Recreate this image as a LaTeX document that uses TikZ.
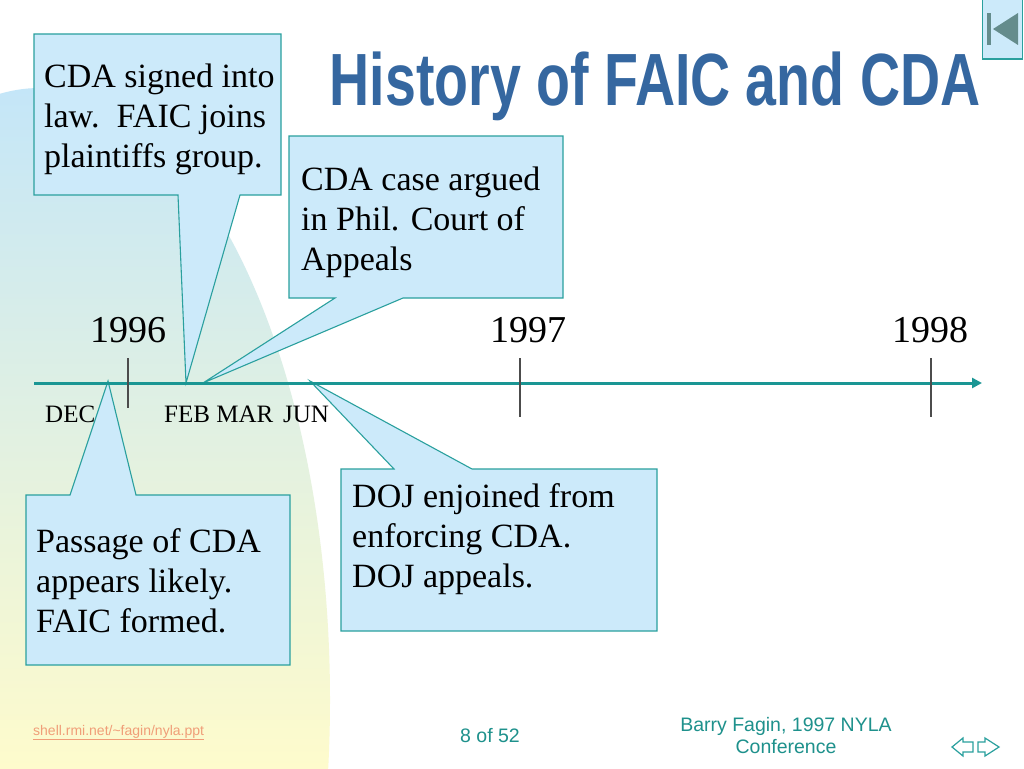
\documentclass[tikz,border=0pt]{standalone}
\usepackage{fontspec}
\setmainfont{Liberation Serif}
\newfontfamily\arialf{Liberation Sans}
\usepackage{graphicx}
\usetikzlibrary{arrows.meta}
\definecolor{calfill}{RGB}{204,234,250}
\definecolor{calline}{RGB}{42,160,158}
\definecolor{axiscol}{RGB}{26,150,148}
\definecolor{titlecol}{RGB}{53,103,160}
\definecolor{bgtop}{RGB}{196,230,248}
\definecolor{bgmid}{RGB}{218,239,228}
\definecolor{bgbot}{RGB}{254,251,204}
\definecolor{urlcol}{RGB}{240,158,120}
\definecolor{footcol}{RGB}{30,145,140}
\definecolor{navgray}{RGB}{100,140,140}
\newcommand\calltext[1]{\begin{tabular}[t]{@{}l@{}}#1\end{tabular}}
\newcommand\centtext[1]{\begin{tabular}[t]{@{}c@{}}#1\end{tabular}}
\begin{document}
\begin{tikzpicture}[x=1pt,y=-1pt,
  callout/.style={fill=calfill,draw=calline,line width=1.1pt,line join=miter},
  caltext/.style={anchor=base west,inner sep=0pt,font=\fontsize{34}{40}\selectfont},
  year/.style={anchor=base,inner sep=0pt,font=\fontsize{38}{40}\selectfont},
  month/.style={anchor=base west,inner sep=0pt,font=\fontsize{25}{28}\selectfont},
  yeartick/.style={draw=black!70,line width=1.2pt},
  navarrow/.style={draw=calline,fill=white,line width=1.2pt,line join=miter},
  foot/.style={inner sep=0pt,text=footcol,font=\arialf\fontsize{19.5}{22}\selectfont},
]
\useasboundingbox (0,0) rectangle (1024,768);
\fill[white] (0,0) rectangle (1024,768);
% background swoosh
\begin{scope}
\clip (40,700) ellipse [x radius=290, y radius=612];
\shade[top color=bgtop, middle color=bgmid, bottom color=bgbot] (0,88) rectangle (340,768);
\end{scope}
% title
\node[anchor=base,inner sep=0pt,text=titlecol,font=\arialf\bfseries\fontsize{74}{80}\selectfont] (title) at (655,105) {\scalebox{0.75}[1]{History of FAIC and CDA}};
% top-right icon
\draw[fill=calfill,draw=calline,line width=1pt] (982,0) rectangle (1022,59);
\fill[navgray] (987,13) rectangle (991,45);
\fill[navgray] (993,29) -- (1018,13) -- (1018,45) -- cycle;
% pointer tips on the axis
\coordinate (t1) at (186,383);
\coordinate (t2) at (203,383);
\coordinate (t3) at (310,381);
\coordinate (t4) at (108,381);
% callouts
\path[callout] (34,34) -- (281,34) -- (281,195) -- (240,195) -- (t1) -- (178,195) -- (34,195) -- cycle;
\path[callout] (289,136) -- (563,136) -- (563,298) -- (403,298) -- (t2) -- (335,298) -- (289,298) -- cycle;
\path[callout] (341,469) -- (394,469) -- (t3) -- (472,469) -- (657,469) -- (657,631) -- (341,631) -- cycle;
\path[callout] (26,495) -- (70,495) -- (t4) -- (136,495) -- (290,495) -- (290,665) -- (26,665) -- cycle;
\node[caltext] (c1) at (44,87) {\calltext{CDA signed into\\law.\ \ FAIC joins\\plaintiffs group.}};
\node[caltext] (c2) at (301,190) {\calltext{CDA case argued\\in Phil. Court of\\Appeals}};
\node[caltext] (c3) at (352,507) {\calltext{DOJ enjoined from\\enforcing CDA.\\DOJ appeals.}};
\node[caltext] (c4) at (36,552) {\calltext{Passage of CDA\\appears likely.\\FAIC formed.}};
% axis
\coordinate (a0) at (34,383);
\coordinate (a1) at (982,383);
\draw[axiscol,line width=3pt,-{Triangle[length=10pt,width=10pt]}] (a0) -- (a1);
% years and ticks
\node[year] (y96) at (128,342) {1996};
\node[year] (y97) at (528,342) {1997};
\node[year] (y98) at (930,342) {1998};
\draw[yeartick] (128,358) -- (128,408);
\draw[yeartick] (520,358) -- (520,417);
\draw[yeartick] (931,358) -- (931,417);
% months
\node[month] (dec) at (45,422) {DEC};
\node[month] (febmar) at (164,422) {FEB MAR};
\node[month] (jun) at (283,422) {JUN};
% footer
\node[anchor=base west,inner sep=0pt,text=urlcol,font=\arialf\fontsize{14}{16}\selectfont] (url) at (33,735) {\underline{shell.rmi.net/\textasciitilde fagin/nyla.ppt}};
\node[foot,anchor=base] (page) at (490,742) {8 of 52};
\node[foot,anchor=base] (credit) at (786,731) {\centtext{Barry Fagin, 1997 NYLA\\Conference}};
% nav arrows
\path[navarrow] (952,747) -- (963,738) -- (963,742) -- (973,742) -- (973,752) -- (963,752) -- (963,756) -- cycle;
\path[navarrow] (999,747) -- (985,738) -- (985,742) -- (978,742) -- (978,752) -- (985,752) -- (985,756) -- cycle;
\end{tikzpicture}
\end{document}
